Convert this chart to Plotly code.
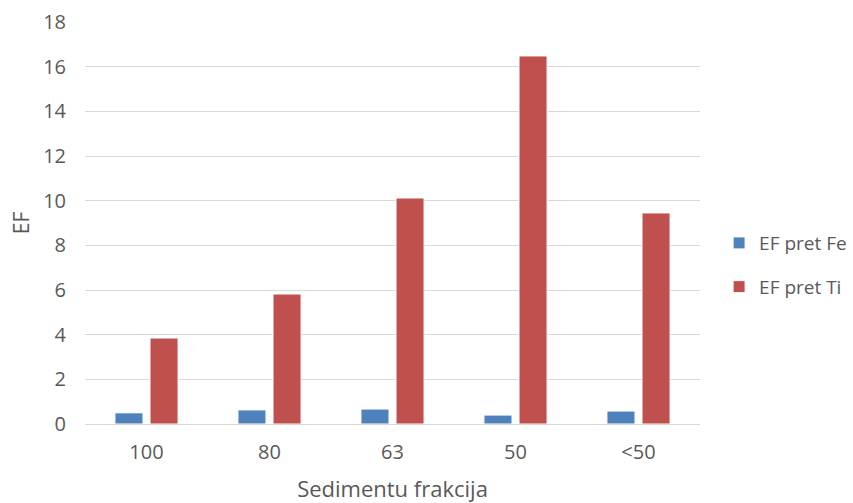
import plotly.graph_objects as go

# Sediment size fractions and enrichment factors
fractions = ["100", "80", "63", "50", "<50"]
ef_fe = [0.50, 0.63, 0.67, 0.40, 0.58]
ef_ti = [3.85, 5.82, 10.12, 16.48, 9.45]
y_ticks = [0, 2, 4, 6, 8, 10, 12, 14, 16, 18]

font_family = "Open Sans"
text_color = "#595959"

fig = go.Figure()
fig.add_trace(go.Bar(
    x=fractions, y=ef_fe, name="EF pret Fe", legendgroup="fe",
    marker=dict(color="#4F81BD", line=dict(color="white", width=1)),
))
fig.add_trace(go.Bar(
    x=fractions, y=ef_ti, name="EF pret Ti", legendgroup="ti",
    marker=dict(color="#C0504D", line=dict(color="white", width=1)),
))

fig.update_layout(
    width=853, height=503,
    margin=dict(l=85, r=153, t=22, b=79),
    paper_bgcolor="white", plot_bgcolor="white",
    font=dict(family=font_family, size=20, color=text_color),
    barmode="group", bargap=0.43, bargroupgap=0.2,
    showlegend=True,
    legend=dict(
        xref="container", yref="container",
        x=0.843, y=0.473, xanchor="left", yanchor="middle",
        font=dict(size=19, color=text_color),
        tracegroupgap=16, itemwidth=30,
    ),
    xaxis=dict(
        title=dict(text="Sedimentu frakcija", font=dict(size=22), standoff=20),
        automargin=False,
        showgrid=False, showline=True, linecolor="#D9D9D9", linewidth=1,
        ticks="", tickfont=dict(size=20), ticklabelstandoff=10,
    ),
    yaxis=dict(
        title=dict(text="EF", font=dict(size=21), standoff=7),
        automargin=False,
        range=[0, 18], tickvals=y_ticks,
        showgrid=True, gridcolor="#D9D9D9", gridwidth=1,
        zeroline=False, showline=False, ticks="",
        tickfont=dict(size=20), ticklabelstandoff=18,
    ),
)

fig.write_html("out.html")
